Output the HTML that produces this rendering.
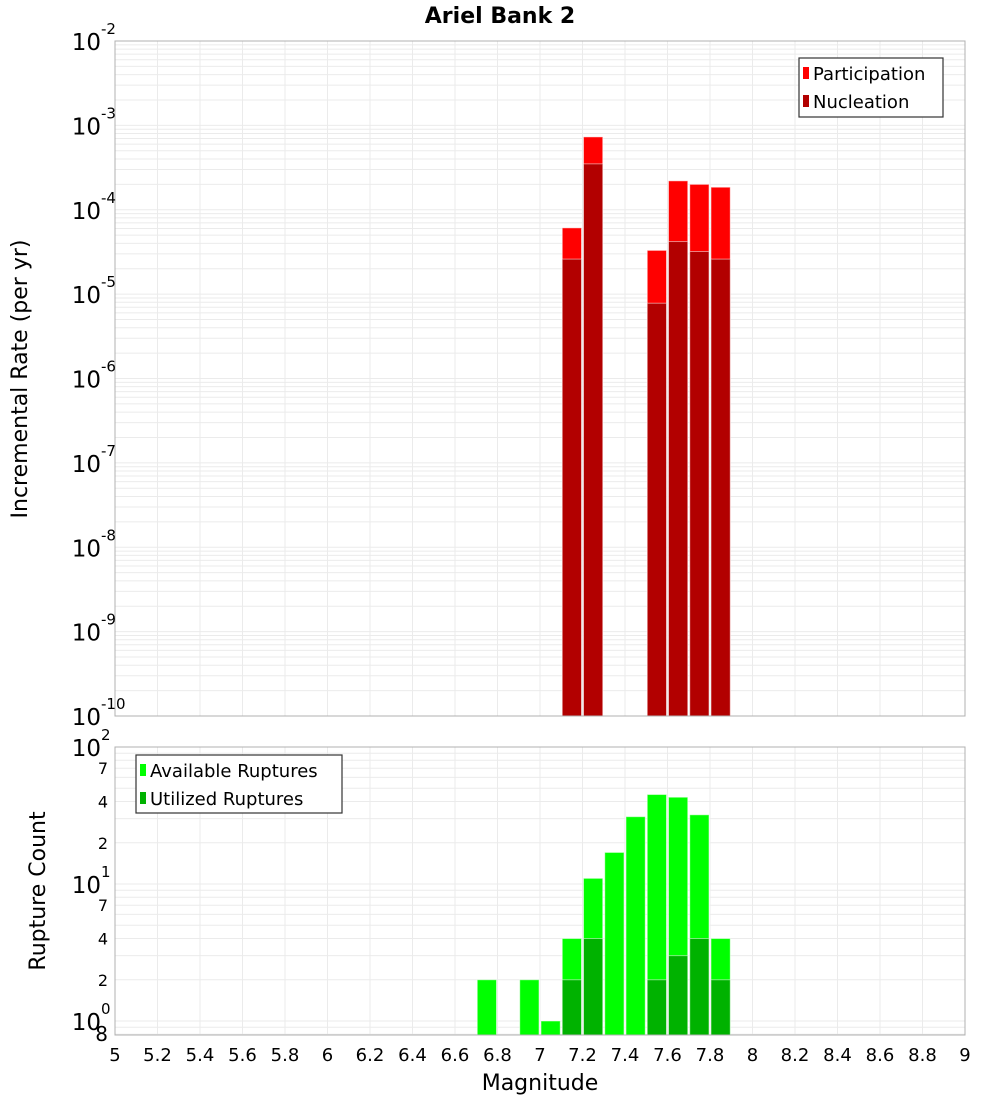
<!DOCTYPE html>
<html><head><meta charset="utf-8"><style>
html,body{margin:0;padding:0;background:#fff;}
svg text{font-family:"DejaVu Sans","Liberation Sans",sans-serif;fill:#000;}
</style></head><body>
<svg id="chart" width="1000" height="1100" xmlns="http://www.w3.org/2000/svg">
<text x="500" y="23" text-anchor="middle" font-size="22" font-weight="bold">Ariel Bank 2</text>
<g id="topPlot"></g>
<g id="botPlot"></g>
<text transform="translate(27,379) rotate(-90)" text-anchor="middle" font-size="22">Incremental Rate (per yr)</text>
<text transform="translate(45,891) rotate(-90)" text-anchor="middle" font-size="22">Rupture Count</text>
<text x="540" y="1090" text-anchor="middle" font-size="22">Magnitude</text>
</svg>
<script>
const mags = [6.75, 6.95, 7.05, 7.15, 7.25, 7.35, 7.45, 7.55, 7.65, 7.75, 7.85];
const participation = [0, 0, 0, 6.1e-5, 7.3e-4, 0, 0, 3.3e-5, 2.2e-4, 2.0e-4, 1.85e-4];
const nucleation = [0, 0, 0, 2.6e-5, 3.5e-4, 0, 0, 7.8e-6, 4.2e-5, 3.2e-5, 2.6e-5];
const available = [2, 2, 1, 4, 11, 17, 31, 45, 43, 32, 4];
const utilized = [0, 0, 0, 2, 4, 0, 0, 2, 3, 4, 2];
const xTicks = [5,5.2,5.4,5.6,5.8,6,6.2,6.4,6.6,6.8,7,7.2,7.4,7.6,7.8,8,8.2,8.4,8.6,8.8,9];
const topDecades = [-2,-3,-4,-5,-6,-7,-8,-9,-10];
const botDecades = [2,1,0];
const botMinorLabels = [7,4,2];

const NS='http://www.w3.org/2000/svg';
const L=115,R=965;
const x=v=>L+(v-5)/4*(R-L);
const T1=41,B1=716;
const yTop=v=>T1+(-2-Math.log10(v))/8*(B1-T1);
const T2=747,B2=1035;
const yBot=v=>1021-Math.log10(v)*137;
function mk(p,tag,at){const e=document.createElementNS(NS,tag);for(const k in at)e.setAttribute(k,at[k]);p.appendChild(e);return e;}
const topG=document.getElementById('topPlot'),botG=document.getElementById('botPlot');

for(let d=-10;d<-2;d++){for(let m=1;m<10;m++){const yy=yTop(m*Math.pow(10,d));
 const g=mk(topG,'line',{x1:L,x2:R,y1:yy,y2:yy,stroke:'#ebebeb','stroke-width':1});
 
 }}
xTicks.forEach(t=>{const g=mk(topG,'line',{x1:x(t),x2:x(t),y1:T1,y2:B1,stroke:'#ebebeb','stroke-width':1});
 
 });
for(let d=-1;d<2;d++){for(let m=1;m<10;m++){const v=m*Math.pow(10,d);const yy=yBot(v);if(yy<T2||yy>B2)continue;
 const g=mk(botG,'line',{x1:L,x2:R,y1:yy,y2:yy,stroke:'#ebebeb','stroke-width':1});
 
 }}
xTicks.forEach(t=>{const g=mk(botG,'line',{x1:x(t),x2:x(t),y1:T2,y2:B2,stroke:'#ebebeb','stroke-width':1});
 
 });

const bw=(x(0.1)-x(0))-2;
function bar(p,m,v,fill,yf,base,name){if(!v)return;const yy=yf(v);
 const r=mk(p,'rect',{x:x(m)-bw/2,y:yy,width:bw,height:base-yy,fill:fill,stroke:'#fff','stroke-opacity':0.5,'stroke-width':1});
 
 }
mags.forEach((m,i)=>{bar(topG,m,participation[i],'#ff0000',yTop,B1,'participation-bar');bar(topG,m,nucleation[i],'#b20000',yTop,B1,'nucleation-bar');
 bar(botG,m,available[i],'#00ff00',yBot,B2,'available-bar');bar(botG,m,utilized[i],'#00b200',yBot,B2,'utilized-bar');});

mk(topG,'rect',{x:L,y:T1,width:R-L,height:B1-T1,fill:'none',stroke:'#b0b0b0','stroke-width':1});
mk(botG,'rect',{x:L,y:T2,width:R-L,height:B2-T2,fill:'none',stroke:'#b0b0b0','stroke-width':1});

function pow(p,yy,e,name){const t=mk(p,'text',{x:101,y:yy+9,'text-anchor':'end','font-size':23});t.textContent='10';
 
 
 const s=mk(p,'text',{x:101,y:yy-7,'font-size':15});s.textContent=e;}
topDecades.forEach(d=>pow(topG,yTop(Math.pow(10,d)),d,'top-y-tick-label'));
botDecades.forEach(d=>pow(botG,yBot(Math.pow(10,d)),d,'bottom-y-tick-label'));
botDecades.forEach(d=>{if(d>=2)return;botMinorLabels.forEach(m=>{const yy=yBot(m*Math.pow(10,d));
 const t=mk(botG,'text',{x:108,y:yy+6,'text-anchor':'end','font-size':16,fill:'#333'});t.textContent=m;
 
 });});
const t8=mk(botG,'text',{x:108,y:1041,'text-anchor':'end','font-size':20});t8.textContent='8';
xTicks.forEach(t=>{const e=mk(botG,'text',{x:x(t),y:1061,'text-anchor':'middle','font-size':18});e.textContent=String(t);
 
 });

function legend(p,bx,by,w,h,items,name){const g=mk(p,'g',{});
 
 
 mk(g,'rect',{x:bx,y:by,width:w,height:h,fill:'#fff',stroke:'#333','stroke-width':1.2});
 items.forEach((it,i)=>{const yy=by+15+i*28;mk(g,'rect',{x:bx+4,y:yy-6,width:6,height:12,fill:it[1]});
 const t=mk(g,'text',{x:bx+14,y:yy+7,'font-size':18});t.textContent=it[0];});}
legend(topG,799,58,144,59,[['Participation','#ff0000'],['Nucleation','#b20000']],'rate-legend');
legend(botG,136,755,206,58,[['Available Ruptures','#00ff00'],['Utilized Ruptures','#00b200']],'count-legend');
</script>
</body></html>
